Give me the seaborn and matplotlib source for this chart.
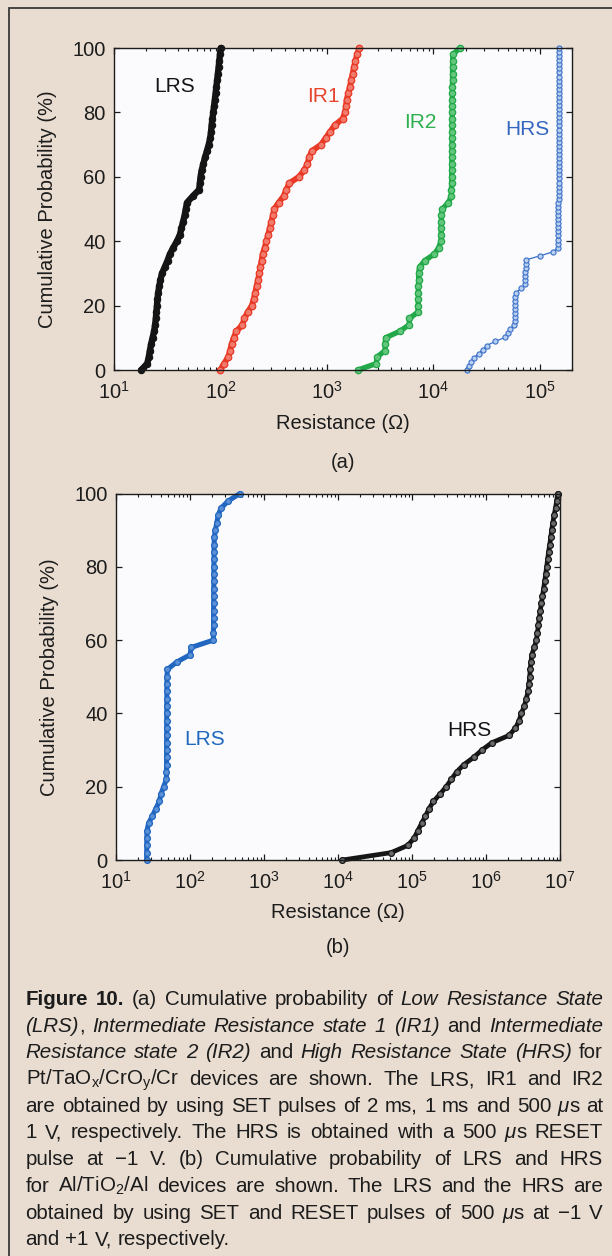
import re
import numpy as np
import matplotlib
matplotlib.use("Agg")
import matplotlib.pyplot as plt
from matplotlib.patches import Rectangle
import seaborn as sns

# ---------------- data: measured resistances (ohm), ascending ----------------
# (a) Pt/TaOx/CrOy/Cr devices
lrs_a = [18.0, 20.5, 21.2, 21.7, 22.3, 23.0, 23.8, 24.3, 24.7, 25.0, 25.3, 25.6,
         26.0, 26.6, 27.3, 28.2, 30.0, 31.8, 33.5, 36.0, 39.0, 41.5, 43.0, 44.5,
         46.0, 47.2, 48.5, 55.0, 63.0, 64.0, 65.0, 66.5, 69.0, 71.5, 74.5, 77.5,
         80.0, 81.5, 82.5, 84.0, 85.5, 87.0, 88.5, 90.0, 91.5, 93.0, 94.5, 96.0,
         97.5, 98.8, 100.5]
ir1_a = [100, 108, 118, 123, 127, 133, 141, 160, 168, 180, 197, 205, 212, 218,
         225, 232, 237, 243, 249, 260, 270, 280, 290, 300, 310, 320, 352, 392,
         415, 443, 545, 610, 655, 680, 720, 880, 970, 1070, 1180, 1400, 1480,
         1505, 1530, 1590, 1640, 1690, 1740, 1790, 1850, 1920, 2010]
ir2_a = [1950, 2900, 2950, 3500, 3520, 3550, 4800, 5900, 5950, 7150, 7180, 7200,
         7200, 7220, 7250, 7250, 7400, 8300, 10200, 11200, 11750, 11800, 11800,
         11850, 11850, 12100, 13800, 14700, 14750, 14800, 14800, 14850, 14850,
         14900, 14900, 14900, 14950, 14950, 14950, 15000, 15000, 15000, 15000,
         15050, 15050, 15100, 15100, 15100, 15150, 15200, 17700]
hrs_a = [20500, 21500, 22500, 24000, 26500, 29000, 31500, 38000, 47000, 50000,
         52000, 57500, 57800, 58000, 58000, 58200, 58300, 58300, 58500, 60000,
         66500, 72500, 72800, 73000, 73000, 73200, 73400, 73500, 100000, 133000,
         147500, 148000, 148000, 148500, 148500, 148500, 149000, 149000, 149000,
         149000, 149000, 149000, 149500, 149500, 149500, 149500, 149500, 149500,
         149500, 149500, 150000, 150000, 150000, 150000, 150000, 150000, 150000,
         150000, 150000, 150000, 150000, 150000, 150000, 150000, 150000, 150500,
         150500, 150500, 150500, 150500, 150500, 150500, 150500, 150500, 150500,
         150500, 150500, 151000, 151000, 151000]

# (b) Al/TiO2/Al devices
lrs_b = [25.9, 26.0, 26.0, 26.1, 26.2, 27.5, 31.0, 34.5, 38.5, 40.5, 44.0, 48.0,
         48.1, 48.2, 48.2, 48.3, 48.3, 48.4, 48.4, 48.4, 48.5, 48.5, 48.6, 48.6,
         48.7, 48.8, 49.5, 66.0, 100, 104, 207, 207, 208, 208, 208, 209, 209,
         209, 210, 210, 210, 211, 211, 212, 213, 220, 230, 240, 262, 330, 474]
hrs_b = [11500, 52000, 88000, 107000, 120000, 135000, 152000, 170000, 195000,
         240000, 290000, 340000, 400000, 500000, 680000, 880000, 1.2e6, 2.05e6,
         2.5e6, 2.8e6, 3.0e6, 3.3e6, 3.5e6, 3.7e6, 3.8e6, 3.9e6, 3.95e6, 4.05e6,
         4.15e6, 4.5e6, 4.8e6, 4.95e6, 5.1e6, 5.25e6, 5.4e6, 5.6e6, 5.8e6, 6.0e6,
         6.2e6, 6.4e6, 6.6e6, 6.8e6, 7.0e6, 7.25e6, 7.5e6, 7.7e6, 8.0e6, 8.3e6,
         8.7e6, 9.0e6, 9.3e6]

y_ticks = [0, 20, 40, 60, 80, 100]
xlim_a = (10, 2e5)
xlim_b = (10, 1e7)

caption_lines = [
    r"**Figure 10.** (a) Cumulative probability of *Low Resistance State*",
    r"*(LRS)*, *Intermediate Resistance state 1 (IR1)* and *Intermediate*",
    r"*Resistance state 2 (IR2)* and *High Resistance State (HRS)* for",
    r"Pt/TaO$_\mathregular{x}$/CrO$_\mathregular{y}$/Cr devices are shown. The LRS, IR1 and IR2",
    r"are obtained by using SET pulses of 2 ms, 1 ms and 500 *μ*s at",
    r"1 V, respectively. The HRS is obtained with a 500 *μ*s RESET",
    r"pulse at −1 V. (b) Cumulative probability of LRS and HRS",
    r"for Al/TiO$_\mathregular{2}$/Al devices are shown. The LRS and the HRS are",
    r"obtained by using SET and RESET pulses of 500 *μ*s at −1 V",
    r"and +1 V, respectively.",
]

# ---------------- style ----------------
BG = "#e9ddd1"
FACE = "#fbfbfd"
INK = "#1c1c1c"

sns.set_style("ticks")
plt.rcParams["font.family"] = ["Liberation Sans", "DejaVu Sans"]
plt.rcParams.update({
    "mathtext.fontset": "custom",
    "mathtext.rm": "Liberation Sans",
    "mathtext.it": "Liberation Sans:italic",
    "mathtext.bf": "Liberation Sans:bold",
    "xtick.direction": "in", "ytick.direction": "in",
    "xtick.top": True, "ytick.right": True,
    "xtick.major.size": 4.5, "ytick.major.size": 4.5,
    "xtick.minor.size": 2.5, "ytick.minor.size": 2.5,
    "xtick.major.width": 0.9, "ytick.major.width": 0.9,
    "xtick.minor.width": 0.8,
    "xtick.major.pad": 8, "ytick.major.pad": 6,
    "axes.linewidth": 1.0,
    "axes.edgecolor": INK, "xtick.color": INK, "ytick.color": INK,
    "text.color": INK, "axes.labelcolor": INK,
    "xtick.labelsize": 14.5, "ytick.labelsize": 14.5,
})

W, H = 612, 1256
fig = plt.figure(figsize=(W / 100, H / 100), dpi=100, facecolor=BG)

ax_a = fig.add_axes([114 / W, 1 - 370 / H, 458 / W, 322 / H])
ax_b = fig.add_axes([116 / W, 1 - 860 / H, 444 / W, 366.5 / H])


def cdf_curve(ax, values, color, mfc, lw, ms, mew, z):
    r = np.asarray(values, dtype=float)
    p = np.arange(r.size) / (r.size - 1) * 100.0
    sns.lineplot(x=r, y=p, ax=ax, color=color, linewidth=lw, marker="o",
                 markersize=ms, markerfacecolor=mfc, markeredgecolor=color,
                 markeredgewidth=mew, estimator=None, sort=False,
                 legend=False, zorder=z, clip_on=False,
                 solid_capstyle="round", solid_joinstyle="round")


# panel (a)
cdf_curve(ax_a, lrs_a, "#141414", "#141414", 4.6, 4.6, 0.8, 3)
cdf_curve(ax_a, ir1_a, "#e83a26", "#f07a6c", 4.2, 4.7, 0.9, 3)
cdf_curve(ax_a, ir2_a, "#22a848", "#62c67c", 3.8, 4.6, 0.9, 3)
cdf_curve(ax_a, hrs_a, "#3a6fc8", "#b9cff0", 0.9, 3.7, 0.8, 3)

# panel (b)
cdf_curve(ax_b, lrs_b, "#2166c0", "#5b8fd6", 3.6, 4.2, 0.9, 3)
cdf_curve(ax_b, hrs_b, "#161616", "#6a6a6a", 3.4, 4.2, 0.9, 3)

for ax, xl in ((ax_a, xlim_a), (ax_b, xlim_b)):
    ax.set_facecolor(FACE)
    ax.set_xscale("log")
    ax.set_xlim(*xl)
    ax.set_ylim(0, 100)
    ax.set_yticks(y_ticks)
    ax.set_xlabel("Resistance (Ω)", fontsize=14.5)
    ax.set_ylabel("Cumulative Probability (%)", fontsize=14.5)
    ax.xaxis.label.set_va("center")
    ax.yaxis.label.set_va("center")
    for s in ax.spines.values():
        s.set_zorder(4)

ax_a.xaxis.set_label_coords(0.5, -0.165)
ax_a.yaxis.set_label_coords(-0.146, 0.5)
ax_b.xaxis.set_label_coords(0.5, -0.142)
ax_b.yaxis.set_label_coords(-0.149, 0.5)

ax_a.text(0.5, -0.286, "(a)", transform=ax_a.transAxes, ha="center",
          va="center", fontsize=14.5)
ax_b.text(0.5, -0.240, "(b)", transform=ax_b.transAxes, ha="center",
          va="center", fontsize=14.5)

# curve names
lab = dict(fontsize=15, ha="center", va="center")
ax_a.text(37.4, 87.9, "LRS", color="#141414", **lab)
ax_a.text(916, 84.8, "IR1", color="#e8452f", **lab)
ax_a.text(7460, 77.0, "IR2", color="#2fb04e", **lab)
ax_a.text(7.55e4, 74.8, "HRS", color="#3466c0", **lab)
ax_b.text(160, 33.0, "LRS", color="#2167be", **lab)
ax_b.text(5.9e5, 35.2, "HRS", color="#141414", **lab)

# outer frame
fig.add_artist(Rectangle((8.5 / W, -0.05), 1.2, (H - 7.5) / H + 0.05,
                         transform=fig.transFigure, fill=False,
                         edgecolor="#3a3a3a", linewidth=1.3))


# ---------------- justified caption ----------------
def parse(line):
    bold = italic = False
    runs = []
    for tok in re.split(r"(\*\*|\*)", line):
        if tok == "**":
            bold = not bold
        elif tok == "*":
            italic = not italic
        elif tok:
            runs.append((tok, bold, italic))
    words = [[]]
    for text, b, i in runs:
        for k, part in enumerate(text.split(" ")):
            if k > 0:
                words.append([])
            if part:
                words[-1].append((part, b, i))
    return [w for w in words if w]


renderer = fig.canvas.get_renderer()


def text_width(txt, b, i, fs):
    t = fig.text(0, 0, txt, fontsize=fs, fontweight="bold" if b else "normal",
                 fontstyle="italic" if i else "normal")
    w = t.get_window_extent(renderer).width
    t.remove()
    return w


def draw_caption(lines, x0, x1, y_first, lead, fs0):
    parsed = [parse(l) for l in lines]
    sp0 = text_width("n n", False, False, fs0) - text_width("nn", False, False, fs0)
    natural = max(
        sum(text_width(t, b, i, fs0) for w in words for (t, b, i) in w)
        + 0.8 * sp0 * (len(words) - 1)
        for words in parsed[:-1])
    fs = fs0 * min(1.0, (x1 - x0) / natural)
    sp = sp0 * fs / fs0
    for k, words in enumerate(parsed):
        widths = [[text_width(t, b, i, fs) for (t, b, i) in w] for w in words]
        total = sum(sum(a) for a in widths)
        last = k == len(parsed) - 1
        gap = sp if last else (x1 - x0 - total) / (len(words) - 1)
        x = x0
        y = y_first + k * lead
        for w, wl in zip(words, widths):
            for (t, b, i), wd in zip(w, wl):
                fig.text(x / W, 1 - y / H, t, fontsize=fs,
                         fontweight="bold" if b else "normal",
                         fontstyle="italic" if i else "normal",
                         ha="left", va="baseline", color=INK)
                x += wd
            x += gap


draw_caption(caption_lines, 25.5, 603, 1005, 26.7, 14.8)

fig.savefig("out.png", dpi=100, facecolor=BG)
